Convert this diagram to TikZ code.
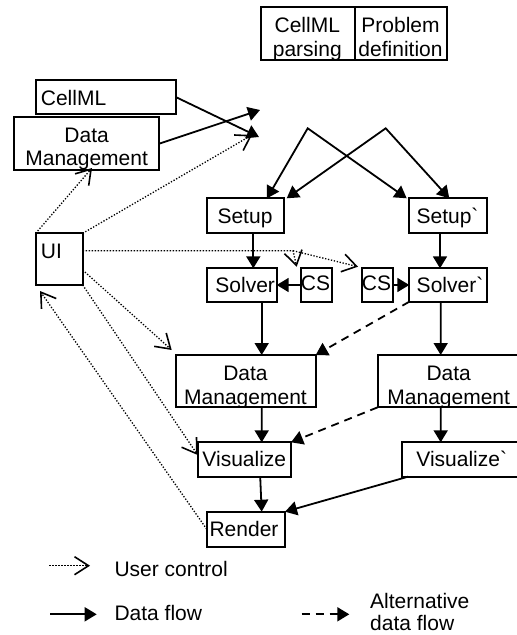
\documentclass[tikz,border=0pt]{standalone}
\usepackage{fontspec}
\setmainfont{Liberation Sans}[Ligatures=TeXOff]
\usetikzlibrary{arrows.meta}
\begin{document}
\begin{tikzpicture}[x=1pt,y=-1pt,
  >={Triangle[length=12pt,width=14pt]},
  box/.style={draw, line width=1.8pt, inner sep=0pt, outer sep=0pt, rectangle},
  lbl/.style={inner sep=0pt, anchor=base, font=\fontsize{21}{24}\selectfont},
  lbll/.style={lbl, anchor=base west},
  flow/.style={line width=1.8pt, ->},
  altflow/.style={flow, dash pattern=on 8pt off 6pt},
  ctrl/.style={line width=1.3pt, dash pattern=on 1.3pt off 1.7pt,
    -{Straight Barb[length=14pt,width=18pt,line width=1.6pt]}},
]
\useasboundingbox (0,0) rectangle (517,635);

% text of a box is cut at the inner edge of its frame
\newcommand\insideclip[1]{%
  \clip ([xshift=1.5pt,yshift=1.5pt]#1.south west) rectangle ([xshift=-1.5pt,yshift=-1.5pt]#1.north east);}

% ---- header table ----
\node[box, minimum width=94.3pt, minimum height=53.3pt] (cellA) at (307.85,33.35) {};
\node[box, minimum width=91.7pt, minimum height=53.3pt] (cellB) at (400.85,33.35) {};
\begin{scope}
  \insideclip{cellA}
  \node[lbl] (cellAt1) at (307.3,32.3) {CellML};
  \node[lbl] (cellAt2) at (307.3,56.6) {parsing};
\end{scope}
\begin{scope}
  \insideclip{cellB}
  \node[lbl] (cellBt1) at (400.5,32.3) {Problem};
  \node[lbl] (cellBt2) at (400.5,56.6) {definition};
\end{scope}

% ---- input side ----
\node[box, minimum width=140.3pt, minimum height=34.3pt] (cellml) at (105.85,97.15) {};
\node[lbll] (cellmlT) at (40.7,105) {CellML};
\node[box, minimum width=145.3pt, minimum height=52.7pt] (dmA) at (86.65,143.65) {};
\begin{scope}
  \insideclip{dmA}
  \node[lbl] (dmAt1) at (86.65,142.7) {Data};
  \node[lbl] (dmAt2) at (86.65,165.2) {Management};
\end{scope}
\node[box, minimum width=47pt, minimum height=51.7pt] (ui) at (59.2,259.15) {};
\node[lbll] (uiT) at (40.7,258.3) {UI};

% ---- two processing chains ----
\node[box, minimum width=77.6pt, minimum height=34.4pt] (setup) at (245.5,215.5) {};
\node[lbl] (setupT) at (245,223.3) {Setup};
\node[box, minimum width=77.4pt, minimum height=34.4pt] (setup2) at (448,215.5) {};
\node[lbl] (setup2T) at (447.5,223.3) {Setup`};

\node[box, minimum width=70pt, minimum height=33.4pt] (solver) at (241.7,285) {};
\node[lbl] (solverT) at (245.2,292.7) {Solver};
\node[box, minimum width=31pt, minimum height=33.4pt] (csA) at (316.2,285) {};
\node[lbl] (csAT) at (315.5,290.7) {CS};
\node[box, minimum width=31.6pt, minimum height=33.4pt] (csB) at (377.5,285) {};
\node[lbl] (csBT) at (376.5,290.7) {CS};
\node[box, minimum width=77.4pt, minimum height=33.4pt] (solver2) at (448,285) {};
\node[lbl] (solver2T) at (450,292.7) {Solver`};

\node[box, minimum width=140pt, minimum height=52.3pt] (dmB) at (245.7,381.15) {};
\begin{scope}
  \insideclip{dmB}
  \node[lbl] (dmBt1) at (245.5,380) {Data};
  \node[lbl] (dmBt2) at (245.5,404.5) {Management};
\end{scope}
\node[box, minimum width=162.3pt, minimum height=52.3pt] (dmC) at (458.85,381.15) {};
\begin{scope}
  \insideclip{dmC}
  \node[lbl] (dmCt1) at (448.7,380) {Data};
  \node[lbl] (dmCt2) at (448.7,404.5) {Management};
\end{scope}

\node[box, minimum width=93.3pt, minimum height=34.4pt] (vis) at (244.35,459.5) {};
\node[lbl] (visT) at (244.3,466.7) {Visualize};
\node[box, minimum width=137.7pt, minimum height=34.4pt] (vis2) at (471.15,459.5) {};
\node[lbl] (vis2T) at (461.7,466.7) {Visualize`};

\node[box, minimum width=78.3pt, minimum height=35pt] (render) at (245.85,529.2) {};
\node[lbl] (renderT) at (244,536) {Render};

% ---- junction points ----
\coordinate (p1) at (307.7,128.3);
\coordinate (p2) at (385.7,128.3);
\coordinate (hub) at (259,137);
\coordinate (out) at (260,110);
\coordinate (uihub) at (252,135);
\coordinate (split) at (293,250.7);

% ---- data flow ----
\draw[flow] (cellml.east) -- (hub);
\draw[flow] (dmA.east) -- (out);
\draw[flow, <->] ([xshift=21.5pt]setup.north) -- (p1) -- ([xshift=-41.3pt]setup2.north);
\draw[flow, <->] ([xshift=41.2pt]setup.north) -- (p2) -- ([xshift=1.3pt]setup2.north);
\draw[flow] ([xshift=7.8pt]setup.south) -- ([xshift=11.6pt]solver.north);
\draw[flow] ([xshift=-8pt]setup2.south) -- ([xshift=-8pt]solver2.north);
\draw[flow] (csA.west) -- (solver.east);
\draw[flow] (csB.east) -- (solver2.west);
\draw[flow] ([xshift=20pt]solver.south) -- ([xshift=16pt]dmB.north);
\draw[flow] ([xshift=-7.3pt]solver2.south) -- ([xshift=-18.15pt]dmC.north);
\draw[flow] ([xshift=16pt]dmB.south) -- ([xshift=17.35pt]vis.north);
\draw[flow] ([xshift=-18.15pt]dmC.south) -- ([xshift=-30.45pt]vis2.north);
\draw[flow] ([xshift=15.85pt]vis.south) -- ([xshift=15.85pt]render.north);
\draw[flow] ([xshift=5.7pt]vis2.south west) -- (render.north east);

% ---- alternative data flow ----
\draw[altflow] (solver2.south west) -- (dmB.north east);
\draw[altflow] (dmC.south west) -- (vis.north east);

% ---- user control ----
\draw[ctrl] (ui.north west) -- ([xshift=5.35pt,yshift=2pt]dmA.south);
\draw[ctrl] (ui.north east) -- (uihub);
\draw[ctrl] ([yshift=8.5pt]ui.east) -- (split) -- ([xshift=-4pt,yshift=1.6pt]csA.north west);
\draw[ctrl] (split) -- ([xshift=-3.7pt,yshift=1.6pt]csB.north west);
\draw[ctrl] ([yshift=-10.85pt]ui.east) -- ([xshift=-4pt,yshift=5pt]dmB.north west);
\draw[ctrl] (ui.south east) -- ([yshift=4.5pt]vis.west);
\draw[ctrl] (render.west) -- ([xshift=4.3pt,yshift=-6pt]ui.south west);

% ---- legend ----
\coordinate (lgA1) at (49.3,565.7);
\coordinate (lgA2) at (90,565.7);
\coordinate (lgB1) at (50,614.3);
\coordinate (lgB2) at (96.7,614.3);
\coordinate (lgC1) at (301.7,614.3);
\coordinate (lgC2) at (349.3,614.3);
\draw[ctrl] (lgA1) -- (lgA2);
\draw[flow] (lgB1) -- (lgB2);
\draw[altflow] (lgC1) -- (lgC2);
\node[lbll] (lgAT) at (114.3,576.7) {User control};
\node[lbll] (lgBT) at (114.3,620.7) {Data flow};
\node[lbll] (lgCT1) at (370,608.3) {Alternative};
\node[lbll] (lgCT2) at (370,630.8) {data flow};
\end{tikzpicture}
\end{document}
